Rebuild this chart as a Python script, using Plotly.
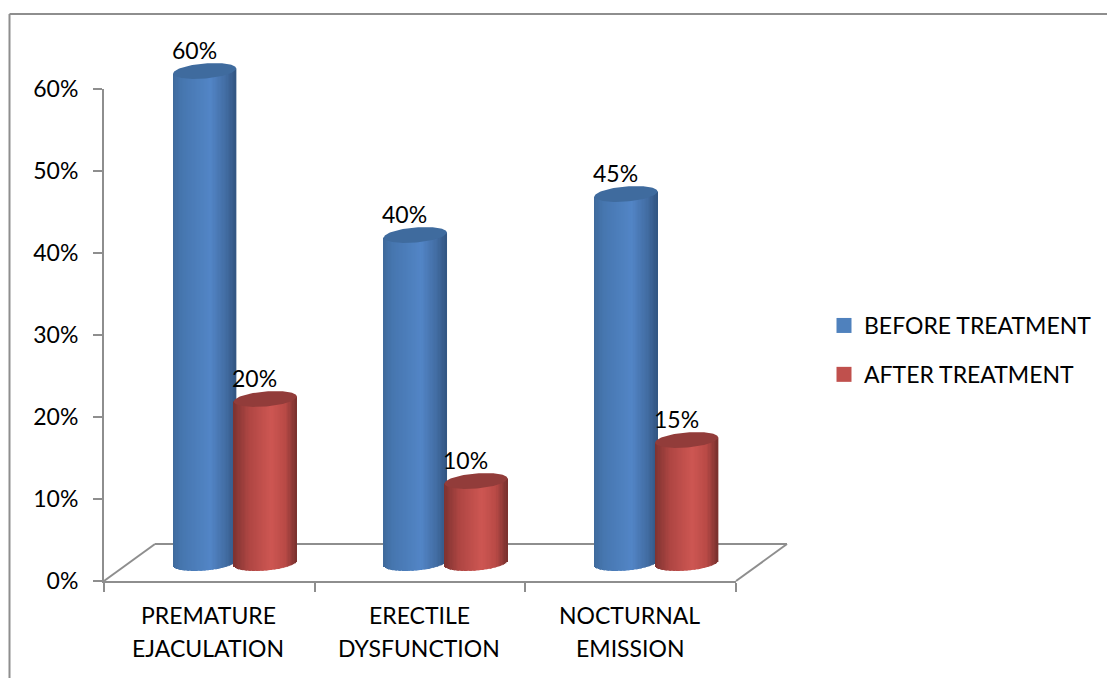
import numpy as np
import plotly.graph_objects as go

# Chart data
categories = [["PREMATURE", "EJACULATION"], ["ERECTILE", "DYSFUNCTION"], ["NOCTURNAL", "EMISSION"]]
before_treatment = [60, 40, 45]
after_treatment = [20, 10, 15]
y_ticks = [0, 10, 20, 30, 40, 50, 60]

# Page and plot geometry, in pixels
W, H = 1107, 678
PLOT_L, PLOT_R, PLOT_T, PLOT_B = 104, 736, 89, 581
DEPTH_X, DEPTH_Y = 51, 37  # oblique offset of the chart floor
FONT = "Lato"
FONT_SIZE = 23
GREY = "#8e8e8e"

PX_X = (PLOT_R - PLOT_L) / len(categories)
PX_Y = (PLOT_B - PLOT_T) / max(y_ticks)

# Cylinder geometry, in axis units
FLOOR_LIFT = 18 / PX_Y
HALF_W = 31.5 / PX_X
CAP_B = 7.5 / PX_Y
TILT = 2.5 / PX_Y
SLICES = 48


def fx(px):
    return px / W


def fy(px):
    return 1 - px / H


def shade(stops, u):
    """Colour across a cylinder, u running from -1 (left) to 1 (right)."""
    pos = [s[0] for s in stops]
    rgb = [np.interp(u, pos, [s[1][i] for s in stops]) for i in range(3)]
    return "rgb(%d,%d,%d)" % tuple(int(round(c)) for c in rgb)


BLUE_STOPS = [(-1, (62, 105, 155)), (-0.7, (70, 118, 175)), (0.2, (82, 133, 198)),
              (0.7, (66, 108, 162)), (1, (50, 85, 130))]
RED_STOPS = [(-1, (125, 50, 48)), (-0.5, (175, 70, 67)), (0.2, (205, 86, 82)),
             (0.65, (185, 74, 70)), (1, (120, 48, 46))]


def cylinder_traces(center, value, stops, cap_colour):
    us = np.linspace(-1, 1, SLICES + 1)
    us = (us[:-1] + us[1:]) / 2
    xs = center + us * HALF_W
    round_edge = CAP_B * np.sqrt(1 - us ** 2)
    bases = FLOOR_LIFT + TILT * us - round_edge
    tops = value + FLOOR_LIFT + TILT * us
    body = go.Bar(
        x=xs, y=tops - bases, base=bases, xaxis="x2", yaxis="y2",
        width=2 * HALF_W / SLICES * 1.25,
        marker=dict(color=[shade(stops, u) for u in us], line=dict(width=0)),
        showlegend=False, hoverinfo="skip",
    )
    t = np.linspace(0, 2 * np.pi, 90)
    cap = go.Scatter(
        x=center + HALF_W * np.cos(t),
        y=value + FLOOR_LIFT + CAP_B * np.sin(t) + TILT * np.cos(t),
        xaxis="x2", yaxis="y2",
        mode="lines", fill="toself", fillcolor=cap_colour,
        line=dict(width=0), showlegend=False, hoverinfo="skip",
    )
    return body, cap


fig = go.Figure()
annotations = []
text_font = dict(family=FONT, size=FONT_SIZE, color="black")

series = [
    (before_treatment, 0.478, BLUE_STOPS, "#3f6b9e"),
    (after_treatment, 0.766, RED_STOPS, "#923c3a"),
]
for values, slot, stops, cap_colour in series:
    for i, value in enumerate(values):
        center = i + slot
        body, cap = cylinder_traces(center, value, stops, cap_colour)
        fig.add_trace(body)
        fig.add_trace(cap)
        annotations.append(dict(
            x=center, y=value + FLOOR_LIFT, xref="x2", yref="y2", text=f"{value}%",
            showarrow=False, xshift=-10.5, yshift=21, font=text_font,
        ))

# Legend entries, attached to the visible axes
for name, colour, group in [("BEFORE TREATMENT", "#4f81bd", "a"), ("AFTER TREATMENT", "#c0504d", "b")]:
    fig.add_trace(go.Scatter(
        x=[None], y=[None], mode="markers", name=name, legendgroup=group,
        marker=dict(symbol="square", size=15, color=colour),
    ))

# Two-line category labels under the axis
for i, lines in enumerate(categories):
    for line, py in zip(lines, (615, 648)):
        annotations.append(dict(
            x=i + 0.5, y=(PLOT_B - py) / PX_Y, xref="x2", yref="y2", text=line,
            showarrow=False, xshift=-1, font=text_font,
        ))

# Chart frame and oblique floor
frame = [(9.5, H, 9.5, 14), (9.5, 14, W, 14)]
floor = [
    (PLOT_L, PLOT_B, PLOT_L + DEPTH_X, PLOT_B - DEPTH_Y),
    (PLOT_L + DEPTH_X, PLOT_B - DEPTH_Y, PLOT_R + DEPTH_X, PLOT_B - DEPTH_Y),
    (PLOT_R + DEPTH_X, PLOT_B - DEPTH_Y, PLOT_R, PLOT_B),
]
shapes = [
    dict(type="line", xref="paper", yref="paper", layer="below",
         x0=fx(a), y0=fy(b), x1=fx(c), y1=fy(d), line=dict(color=GREY, width=2))
    for a, b, c, d in frame + floor
]

tick_style = dict(ticks="outside", ticklen=9, tickwidth=2, tickcolor=GREY,
                  showline=True, linecolor=GREY, linewidth=2, showgrid=False, zeroline=False)

fig.update_layout(
    width=W, height=H,
    margin=dict(l=0, r=0, t=0, b=0, autoexpand=False),
    paper_bgcolor="white", plot_bgcolor="rgba(0,0,0,0)",
    barmode="overlay",
    font=text_font,
    xaxis=dict(
        domain=[fx(PLOT_L), fx(PLOT_R)], range=[0, len(categories)],
        tickvals=list(range(len(categories) + 1)), showticklabels=False, **tick_style,
    ),
    yaxis=dict(
        domain=[fy(PLOT_B), fy(PLOT_T)], range=[0, max(y_ticks)],
        tickvals=y_ticks, ticktext=[f"{v}%" for v in y_ticks],
        ticklabelstandoff=10, **tick_style,
    ),
    # Hidden full-page axes on the same scale, so marks above 60% and labels below 0% stay visible
    xaxis2=dict(
        domain=[0, 1], anchor="y2", visible=False,
        range=[-PLOT_L / PX_X, (W - PLOT_L) / PX_X],
    ),
    yaxis2=dict(
        domain=[0, 1], anchor="x2", visible=False,
        range=[(PLOT_B - H) / PX_Y, PLOT_B / PX_Y],
    ),
    legend=dict(
        x=fx(824), y=fy(304), xanchor="left", yanchor="top",
        bgcolor="rgba(0,0,0,0)", traceorder="grouped", tracegroupgap=16,
        itemwidth=30, font=text_font,
    ),
    annotations=annotations,
    shapes=shapes,
)

fig.write_html("out.html")
